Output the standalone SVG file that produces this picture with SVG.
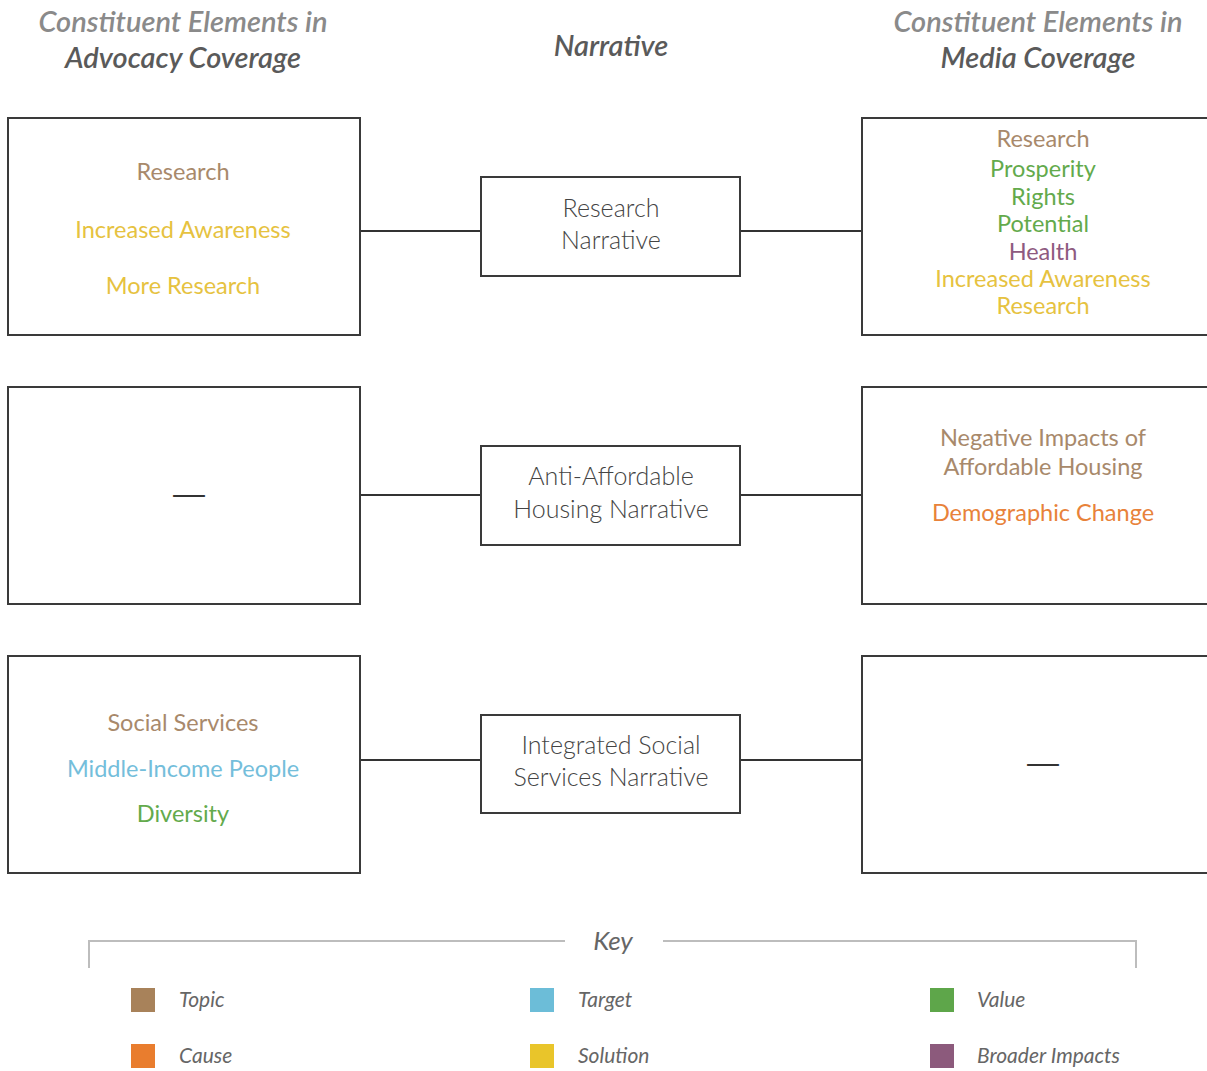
<svg xmlns="http://www.w3.org/2000/svg" width="1207" height="1071" viewBox="0 0 1207 1071">
<style>
text{font-family:Lato,"Open Sans","Liberation Sans",sans-serif;text-anchor:middle}
.hd{font-size:29px;font-style:italic;font-weight:600}
.hl{fill:#8a8a8a}
.hk{fill:#5a5a5a}
.box{fill:#fff;stroke:#3a3a3a;stroke-width:2}
.it{font-size:23.5px}
.mid{font-size:25px;fill:#444;font-weight:300}
.topic{fill:#a8896b}
.cause{fill:#e8823a}
.target{fill:#74bedb}
.sol{fill:#e6c240}
.val{fill:#63aa4c}
.bi{fill:#8e5a80}
.con{stroke:#333;stroke-width:2;fill:none}
.key{stroke:#bdbdbd;stroke-width:2;fill:none}
.kl{font-size:21px;font-style:italic;fill:#666;text-anchor:start}
.dash{font-size:30px;fill:#333}
</style>
<g id="headers">
<text class="hd hl" x="183" y="32">Constituent Elements in</text>
<text class="hd hk" x="183" y="68">Advocacy Coverage</text>
<text class="hd hk" x="611" y="56">Narrative</text>
<text class="hd hl" x="1038" y="32">Constituent Elements in</text>
<text class="hd hk" x="1038" y="68">Media Coverage</text>
</g>
<g id="connectors">
<line class="con" x1="360" y1="231" x2="481" y2="231"/>
<line class="con" x1="740" y1="231" x2="862" y2="231"/>
<line class="con" x1="360" y1="495" x2="481" y2="495"/>
<line class="con" x1="740" y1="495" x2="862" y2="495"/>
<line class="con" x1="360" y1="760" x2="481" y2="760"/>
<line class="con" x1="740" y1="760" x2="862" y2="760"/>
</g>
<g id="adv-research">
<rect class="box" x="8" y="118" width="352" height="217"/>
<text class="it topic" x="183" y="180">Research</text>
<text class="it sol" x="183" y="238">Increased Awareness</text>
<text class="it sol" x="183" y="294">More Research</text>
</g>
<g id="nar-research">
<rect class="box" x="481" y="177" width="259" height="99"/>
<text class="mid" x="611" y="217">Research</text>
<text class="mid" x="611" y="249">Narrative</text>
</g>
<g id="media-research">
<rect class="box" x="862" y="118" width="350" height="217"/>
<text class="it topic" x="1043" y="147">Research</text>
<text class="it val" x="1043" y="177">Prosperity</text>
<text class="it val" x="1043" y="205">Rights</text>
<text class="it val" x="1043" y="232">Potential</text>
<text class="it bi" x="1043" y="260">Health</text>
<text class="it sol" x="1043" y="287">Increased Awareness</text>
<text class="it sol" x="1043" y="314">Research</text>
</g>
<g id="adv-anti">
<rect class="box" x="8" y="387" width="352" height="217"/>
<text class="dash" x="189" y="505" textLength="38" lengthAdjust="spacingAndGlyphs">—</text>
</g>
<g id="nar-anti">
<rect class="box" x="481" y="446" width="259" height="99"/>
<text class="mid" x="611" y="485">Anti-Affordable</text>
<text class="mid" x="611" y="518">Housing Narrative</text>
</g>
<g id="media-anti">
<rect class="box" x="862" y="387" width="350" height="217"/>
<text class="it topic" x="1043" y="446">Negative Impacts of</text>
<text class="it topic" x="1043" y="475">Affordable Housing</text>
<text class="it cause" x="1043" y="521">Demographic Change</text>
</g>
<g id="adv-social">
<rect class="box" x="8" y="656" width="352" height="217"/>
<text class="it topic" x="183" y="731">Social Services</text>
<text class="it target" x="183" y="777">Middle-Income People</text>
<text class="it val" x="183" y="822">Diversity</text>
</g>
<g id="nar-social">
<rect class="box" x="481" y="715" width="259" height="98"/>
<text class="mid" x="611" y="754">Integrated Social</text>
<text class="mid" x="611" y="786">Services Narrative</text>
</g>
<g id="media-social">
<rect class="box" x="862" y="656" width="350" height="217"/>
<text class="dash" x="1043" y="774" textLength="38" lengthAdjust="spacingAndGlyphs">—</text>
</g>
<g id="key">
<path class="key" d="M89 968V941H565M663 941H1136V968"/>
<text x="613" y="950" style="font-size:26px;font-style:italic;fill:#666">Key</text>
<rect x="131" y="988" width="24" height="24" fill="#a8825a"/>
<text class="kl" x="179" y="1007">Topic</text>
<rect x="131" y="1044" width="24" height="24" fill="#e97d2e"/>
<text class="kl" x="179" y="1063">Cause</text>
<rect x="530" y="988" width="24" height="24" fill="#6cbdd8"/>
<text class="kl" x="578" y="1007">Target</text>
<rect x="530" y="1044" width="24" height="24" fill="#e9c52a"/>
<text class="kl" x="578" y="1063">Solution</text>
<rect x="930" y="988" width="24" height="24" fill="#5ea64a"/>
<text class="kl" x="977" y="1007">Value</text>
<rect x="930" y="1044" width="24" height="24" fill="#8c5a7c"/>
<text class="kl" x="977" y="1063">Broader Impacts</text>
</g>
</svg>
